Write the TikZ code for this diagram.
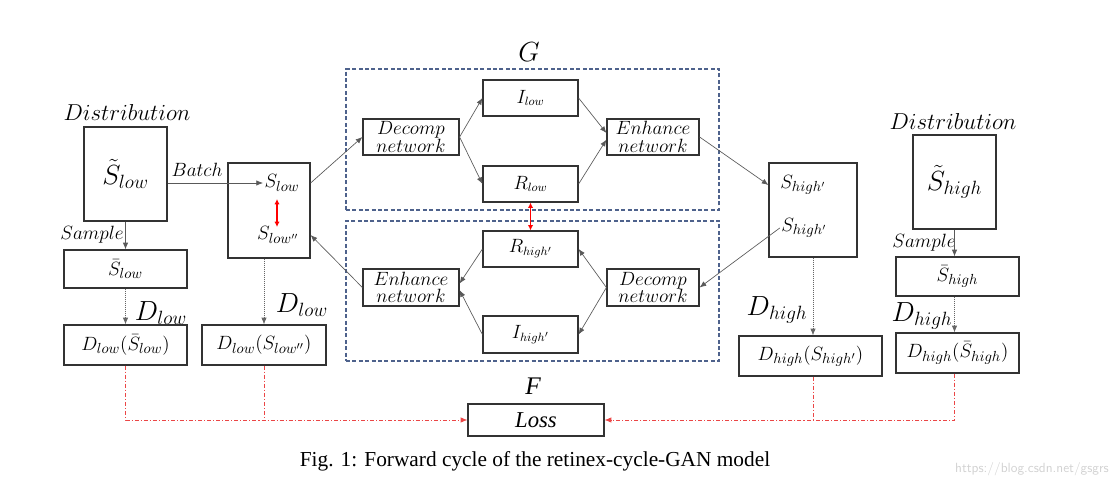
\documentclass[tikz,border=0pt]{standalone}
\usepackage{fontspec}
\setmainfont{Liberation Serif}
\usetikzlibrary{arrows.meta,calc}
\definecolor{gblue}{RGB}{78,98,140}
\definecolor{lred}{RGB}{235,70,70}
\newcommand\fsz[1]{\fontsize{#1}{#1}\selectfont}
\begin{document}
\begin{tikzpicture}[x=0.75pt,y=-0.75pt,
 bx/.style n args={2}{draw=black!80,line width=0.9pt,minimum width=#1*0.75pt,minimum height=#2*0.75pt,inner sep=0pt,font=\fsz{13}},
 lab/.style={inner sep=1pt},
 arr/.style={draw=black!65,line width=0.5pt,-{Latex[length=5pt,width=4pt]}},
 dotarr/.style={draw=black!60,densely dotted,line width=0.5pt,-{Latex[length=5pt,width=4pt]}},
 redl/.style={draw=lred,line width=0.5pt,dash pattern=on 3pt off 1.5pt on 0.8pt off 1.5pt},
 redarr/.style={redl,-{Latex[length=5pt,width=4pt]}},
 rarr/.style={draw=red,line width=1pt,{Latex[length=4pt,width=4pt]}-{Latex[length=4pt,width=4pt]}},
 gdash/.style={draw=gblue,dash pattern=on 3pt off 1.8pt,line width=0.8pt},
]
\useasboundingbox (0,0) rectangle (1109,491);

% dashed generator boxes
\node[gdash,minimum width=373*0.75pt,minimum height=141*0.75pt,inner sep=0pt] (gbox) at (532.5,139.5) {};
\node[gdash,minimum width=373*0.75pt,minimum height=140*0.75pt,inner sep=0pt] (fbox) at (532.5,291) {};
\node[lab,font=\fsz{20}] (glab) at (529,52) {$G$};

% left column
\node[lab,font=\fsz{16}] (dist1) at (127,113) {$Distribution$};
\node[bx={83}{94},font=\fsz{21}] (stl) at (125.5,174) {$\tilde{S}_{low}$};
\node[bx={82}{95}] (slowbox) at (269,210.5) {};
\node[lab,font=\fsz{15}] (slowt) at (282,183) {$S_{low}$};
\node[lab,font=\fsz{15}] (slowpp) at (278,235) {$S_{low''}$};
\node[lab,font=\fsz{15}] (batch) at (197,170) {$Batch$};
\node[lab,font=\fsz{15}] (sample1) at (92,235) {$Sample$};
\node[bx={123}{38},font=\fsz{15}] (sbl) at (125.5,269) {$\bar{S}_{low}$};
\node[lab,font=\fsz{20}] (dlow1) at (161,313) {$D_{low}$};
\node[lab,font=\fsz{20}] (dlow2) at (302,305) {$D_{low}$};
\node[bx={123}{40},font=\fsz{15.5}] (dl1) at (125.5,345) {$D_{low}(\bar{S}_{low})$};
\node[bx={124}{40},font=\fsz{15.5}] (dl2) at (264,345) {$D_{low}(S_{low''})$};

% generator G
\node[bx={96}{36},align=center,font=\fsz{13.5}] (dec1) at (411,137) {$Decomp$\\[-0.5pt]$network$};
\node[bx={95}{36},font=\fsz{13.5}] (ilow) at (530.5,98) {$I_{low}$};
\node[bx={95}{36},font=\fsz{13.5}] (rlow) at (530.5,184) {$R_{low}$};
\node[bx={92}{36},align=center,font=\fsz{13.5}] (enh1) at (653,137) {$Enhance$\\[-0.5pt]$network$};

% generator F part
\node[bx={95}{36},font=\fsz{13.5}] (rhigh) at (530.5,249) {$R_{high'}$};
\node[bx={95}{37},font=\fsz{13.5}] (ihigh) at (530.5,334.5) {$I_{high'}$};
\node[bx={96}{37},align=center,font=\fsz{13.5}] (enh2) at (411,287.5) {$Enhance$\\[-0.5pt]$network$};
\node[bx={92}{37},align=center,font=\fsz{13.5}] (dec2) at (653,287.5) {$Decomp$\\[-0.5pt]$network$};

% right side
\node[bx={88}{94}] (shbox) at (813,210) {};
\node[lab,font=\fsz{15}] (sht1) at (803,185) {$S_{high'}$};
\node[lab,font=\fsz{15}] (sht2) at (804,228) {$S_{high'}$};
\node[lab,font=\fsz{16}] (dist2) at (953,122) {$Distribution$};
\node[bx={83}{94},font=\fsz{21}] (sth) at (954.5,182) {$\tilde{S}_{high}$};
\node[lab,font=\fsz{15}] (sample2) at (924,243) {$Sample$};
\node[bx={123}{39},font=\fsz{15}] (sbh) at (957.5,276.5) {$\bar{S}_{high}$};
\node[lab,font=\fsz{20}] (dhigh1) at (777,310) {$D_{high}$};
\node[lab,font=\fsz{20}] (dhigh2) at (922,316) {$D_{high}$};
\node[bx={143}{40},font=\fsz{15.5}] (dh1) at (810.5,356) {$D_{high}(S_{high'})$};
\node[bx={123}{40},font=\fsz{15.5}] (dh2) at (957.5,353) {$D_{high}(\bar{S}_{high})$};

% loss
\node[lab,font=\fsz{19}\itshape] (flab) at (533,386) {F};
\node[bx={136}{32},font=\fsz{17}\itshape] (loss) at (536,420) {Loss};

% caption and watermark
\node[lab,font=\fsz{16}] (cap) at (535,461) {Fig. 1: Forward cycle of the retinex-cycle-GAN model};
\node[lab,font=\fsz{10}\sffamily,text=black!18] (wm) at (1032,469) {https://blog.csdn.net/gsgrs};

% red double arrows
\coordinate (ra1) at (277,199);
\coordinate (ra2) at (277,227);

% connectors
\draw[arr] (stl.east |- slowt.west) -- (slowt.west);
\draw[arr] (stl.south) -- (stl.south |- sbl.north);
\draw[dotarr] (sbl.south) -- (dl1.north);
\draw[dotarr] (slowbox.south -| dl2.north) -- (dl2.north);
\draw[rarr] (ra1) -- (ra2);

\draw[arr] (slowbox.east |- slowt) -- (dec1.west);
\draw[arr] (dec1.east) -- (ilow.west);
\draw[arr] (dec1.east) -- (rlow.west);
\draw[arr] (ilow.east) -- ([yshift=3pt]enh1.west);
\draw[arr] (rlow.east) -- ([yshift=-2pt]enh1.west);
\draw[arr] (enh1.east) -- (shbox.west |- sht1);

\draw[arr] (sht2.west) -- (dec2.east);
\draw[arr] (dec2.west) -- (rhigh.east);
\draw[arr] (dec2.west) -- (ihigh.east);
\draw[arr] (rhigh.west) -- ([yshift=3pt]enh2.east);
\draw[arr] (ihigh.west) -- ([yshift=-2pt]enh2.east);
\draw[arr] (enh2.west) -- (slowbox.east |- slowpp);
\draw[rarr] (rlow.south) -- (rhigh.north);

\draw[dotarr] (shbox.south) -- (shbox.south |- dh1.north);
\draw[arr] (sth.south) -- (sth.south |- sbh.north);
\draw[dotarr] (sth.south |- sbh.south) -- (sth.south |- dh2.north);

\draw[redarr] (dl1.south) |- (loss.west);
\draw[redl] (dl2.south) -- (dl2.south |- loss.west);
\draw[redarr] (dh2.south -| sth.south) |- (loss.east);
\draw[redl] (dh1.south -| shbox.south) -- (shbox.south |- loss.east);
\end{tikzpicture}
\end{document}
